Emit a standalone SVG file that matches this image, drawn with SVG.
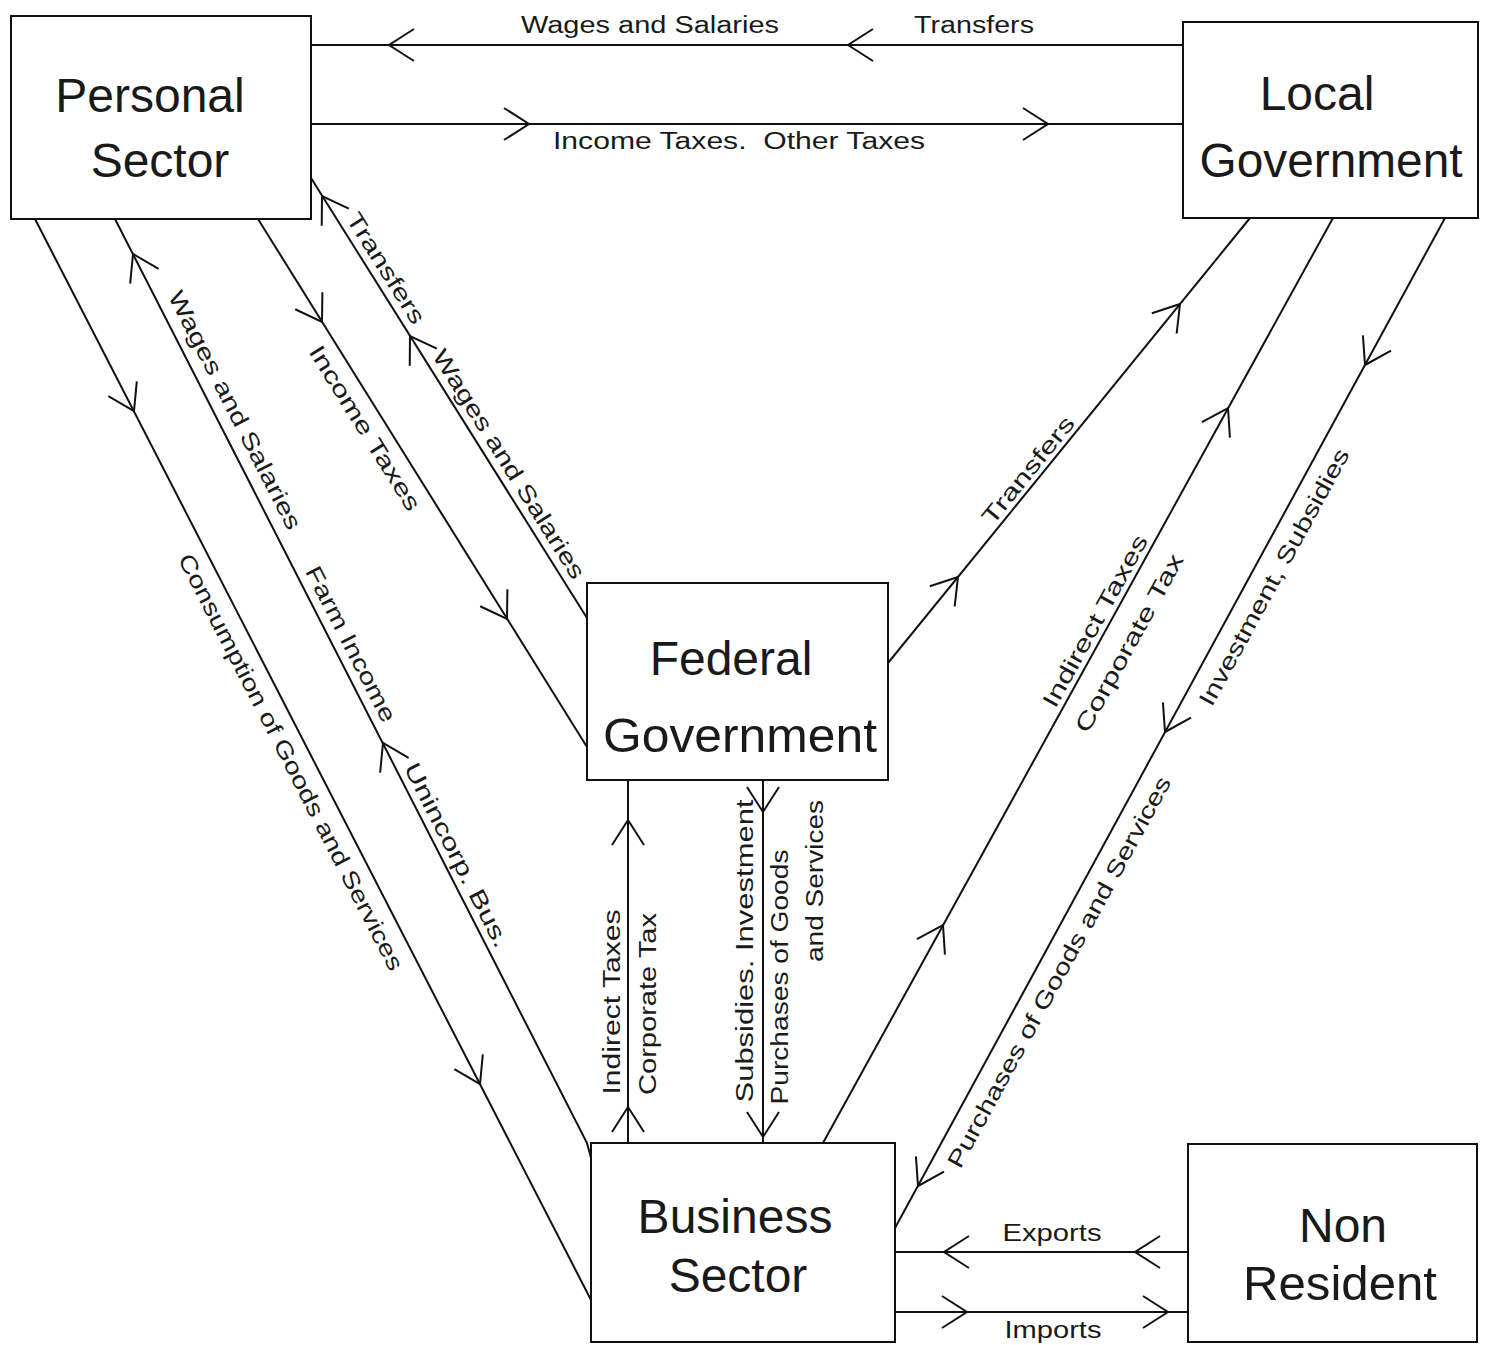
<svg xmlns="http://www.w3.org/2000/svg" xmlns:xlink="http://www.w3.org/1999/xlink" width="1492" height="1345" viewBox="0 0 1492 1345">
<defs>
<style>
.box{fill:#fff;stroke:#111;stroke-width:2}
.ln{fill:none;stroke:#111;stroke-width:2}
.nl{font-family:"Liberation Sans",Arial,sans-serif;font-size:48px;fill:#1a1a1a;text-anchor:middle}
.lb{font-family:"Liberation Sans",Arial,sans-serif;font-size:23px;fill:#1a1a1a;text-anchor:middle}
.rl{font-family:"Liberation Sans",Arial,sans-serif;font-size:23px;fill:#1a1a1a;text-anchor:middle;dominant-baseline:central}
</style>
<path id="ah" d="M -25 -16 L 0 0 L -25 16" fill="none" stroke="#111" stroke-width="2"/>
</defs>
<rect width="1492" height="1345" fill="#fff"/>

<g id="connectors">
  <line class="ln" x1="311" y1="45" x2="1183" y2="45"/>
  <line class="ln" x1="311" y1="124" x2="1183" y2="124"/>
  <line class="ln" x1="35" y1="219" x2="591" y2="1300"/>
  <polyline class="ln" points="115,219 587,1143 591,1158"/>
  <line class="ln" x1="258" y1="219" x2="587" y2="747"/>
  <line class="ln" x1="311" y1="178" x2="587" y2="618"/>
  <line class="ln" x1="1250" y1="218" x2="888" y2="663"/>
  <line class="ln" x1="1333" y1="218" x2="823" y2="1143"/>
  <line class="ln" x1="1445" y1="218" x2="895" y2="1228"/>
  <line class="ln" x1="628" y1="780" x2="628" y2="1143"/>
  <line class="ln" x1="763" y1="780" x2="763" y2="1143"/>
  <line class="ln" x1="895" y1="1252" x2="1188" y2="1252"/>
  <line class="ln" x1="895" y1="1312" x2="1188" y2="1312"/>

  <use xlink:href="#ah" transform="translate(389,45) rotate(180)"/>
  <use xlink:href="#ah" transform="translate(848,45) rotate(180)"/>
  <use xlink:href="#ah" transform="translate(529,124)"/>
  <use xlink:href="#ah" transform="translate(1048,124)"/>
  <use xlink:href="#ah" transform="translate(134,411) rotate(62.8)"/>
  <use xlink:href="#ah" transform="translate(480,1084) rotate(62.8)"/>
  <use xlink:href="#ah" transform="translate(133,254) rotate(242.9)"/>
  <use xlink:href="#ah" transform="translate(383,743) rotate(242.9)"/>
  <use xlink:href="#ah" transform="translate(322,322) rotate(58.1)"/>
  <use xlink:href="#ah" transform="translate(507,619) rotate(58.1)"/>
  <use xlink:href="#ah" transform="translate(322,196) rotate(237.9)"/>
  <use xlink:href="#ah" transform="translate(410,336) rotate(237.9)"/>
  <use xlink:href="#ah" transform="translate(1180,304) rotate(-50.9)"/>
  <use xlink:href="#ah" transform="translate(958,577) rotate(-50.9)"/>
  <use xlink:href="#ah" transform="translate(1228,408) rotate(-61.1)"/>
  <use xlink:href="#ah" transform="translate(943,925) rotate(-61.1)"/>
  <use xlink:href="#ah" transform="translate(1365,365) rotate(118.6)"/>
  <use xlink:href="#ah" transform="translate(1165,732) rotate(118.6)"/>
  <use xlink:href="#ah" transform="translate(918,1186) rotate(118.6)"/>
  <use xlink:href="#ah" transform="translate(628,820) rotate(-90)"/>
  <use xlink:href="#ah" transform="translate(628,1107) rotate(-90)"/>
  <use xlink:href="#ah" transform="translate(763,812) rotate(90)"/>
  <use xlink:href="#ah" transform="translate(763,1137) rotate(90)"/>
  <use xlink:href="#ah" transform="translate(944,1252) rotate(180)"/>
  <use xlink:href="#ah" transform="translate(1135,1252) rotate(180)"/>
  <use xlink:href="#ah" transform="translate(967,1312)"/>
  <use xlink:href="#ah" transform="translate(1168,1312)"/>

  <text class="lb" x="650" y="33" textLength="258" lengthAdjust="spacingAndGlyphs">Wages and Salaries</text>
  <text class="lb" x="974" y="33" textLength="120" lengthAdjust="spacingAndGlyphs">Transfers</text>
  <text class="lb" x="739" y="149" textLength="372" lengthAdjust="spacingAndGlyphs" xml:space="preserve">Income Taxes.  Other Taxes</text>
  <text class="lb" x="1052" y="1241" textLength="99" lengthAdjust="spacingAndGlyphs">Exports</text>
  <text class="lb" x="1053" y="1338" textLength="97" lengthAdjust="spacingAndGlyphs">Imports</text>

  <text class="rl" transform="translate(291,762) rotate(62.8)" textLength="465" lengthAdjust="spacingAndGlyphs">Consumption of Goods and Services</text>
  <text class="rl" transform="translate(235,410) rotate(62.9)" textLength="265" lengthAdjust="spacingAndGlyphs">Wages and Salaries</text>
  <text class="rl" transform="translate(351,644) rotate(62.9)" textLength="172" lengthAdjust="spacingAndGlyphs">Farm Income</text>
  <text class="rl" transform="translate(457,855) rotate(62.9)" textLength="204" lengthAdjust="spacingAndGlyphs">Unincorp. Bus.</text>
  <text class="rl" transform="translate(365,428) rotate(58.1)" textLength="190" lengthAdjust="spacingAndGlyphs">Income Taxes</text>
  <text class="rl" transform="translate(386,268) rotate(57.9)" textLength="127" lengthAdjust="spacingAndGlyphs">Transfers</text>
  <text class="rl" transform="translate(509,464) rotate(57.9)" textLength="266" lengthAdjust="spacingAndGlyphs">Wages and Salaries</text>

  <text class="rl" transform="translate(1028,470) rotate(-50.9)" textLength="132" lengthAdjust="spacingAndGlyphs">Transfers</text>
  <text class="rl" transform="translate(1095,621) rotate(-61.1)" textLength="193" lengthAdjust="spacingAndGlyphs">Indirect Taxes</text>
  <text class="rl" transform="translate(1129,643) rotate(-61.1)" textLength="200" lengthAdjust="spacingAndGlyphs">Corporate Tax</text>
  <text class="rl" transform="translate(1274,577) rotate(-61.4)" textLength="289" lengthAdjust="spacingAndGlyphs">Investment, Subsidies</text>
  <text class="rl" transform="translate(1059,972) rotate(-61.4)" textLength="442" lengthAdjust="spacingAndGlyphs">Purchases of Goods and Services</text>

  <text class="rl" transform="translate(612,1002) rotate(-90)" textLength="185" lengthAdjust="spacingAndGlyphs">Indirect Taxes</text>
  <text class="rl" transform="translate(648,1004) rotate(-90)" textLength="182" lengthAdjust="spacingAndGlyphs">Corporate Tax</text>
  <text class="rl" transform="translate(745,951) rotate(-90)" textLength="303" lengthAdjust="spacingAndGlyphs">Subsidies. Investment</text>
  <text class="rl" transform="translate(780,977) rotate(-90)" textLength="255" lengthAdjust="spacingAndGlyphs">Purchases of Goods</text>
  <text class="rl" transform="translate(815,881) rotate(-90)" textLength="162" lengthAdjust="spacingAndGlyphs">and Services</text>
</g>

<g id="personal-sector">
  <rect class="box" x="11" y="16" width="300" height="203"/>
  <text class="nl" x="150" y="112">Personal</text>
  <text class="nl" x="160" y="177">Sector</text>
</g>
<g id="local-government">
  <rect class="box" x="1183" y="22" width="295" height="196"/>
  <text class="nl" x="1317" y="110">Local</text>
  <text class="nl" x="1331" y="177" textLength="263" lengthAdjust="spacingAndGlyphs">Government</text>
</g>
<g id="federal-government">
  <rect class="box" x="587" y="583" width="301" height="197"/>
  <text class="nl" x="731" y="675">Federal</text>
  <text class="nl" x="740" y="752" textLength="274" lengthAdjust="spacingAndGlyphs">Government</text>
</g>
<g id="business-sector">
  <rect class="box" x="591" y="1143" width="304" height="199"/>
  <text class="nl" x="735" y="1233">Business</text>
  <text class="nl" x="738" y="1292">Sector</text>
</g>
<g id="non-resident">
  <rect class="box" x="1188" y="1144" width="289" height="198"/>
  <text class="nl" x="1343" y="1242">Non</text>
  <text class="nl" x="1340" y="1300" textLength="194" lengthAdjust="spacingAndGlyphs">Resident</text>
</g>
</svg>
